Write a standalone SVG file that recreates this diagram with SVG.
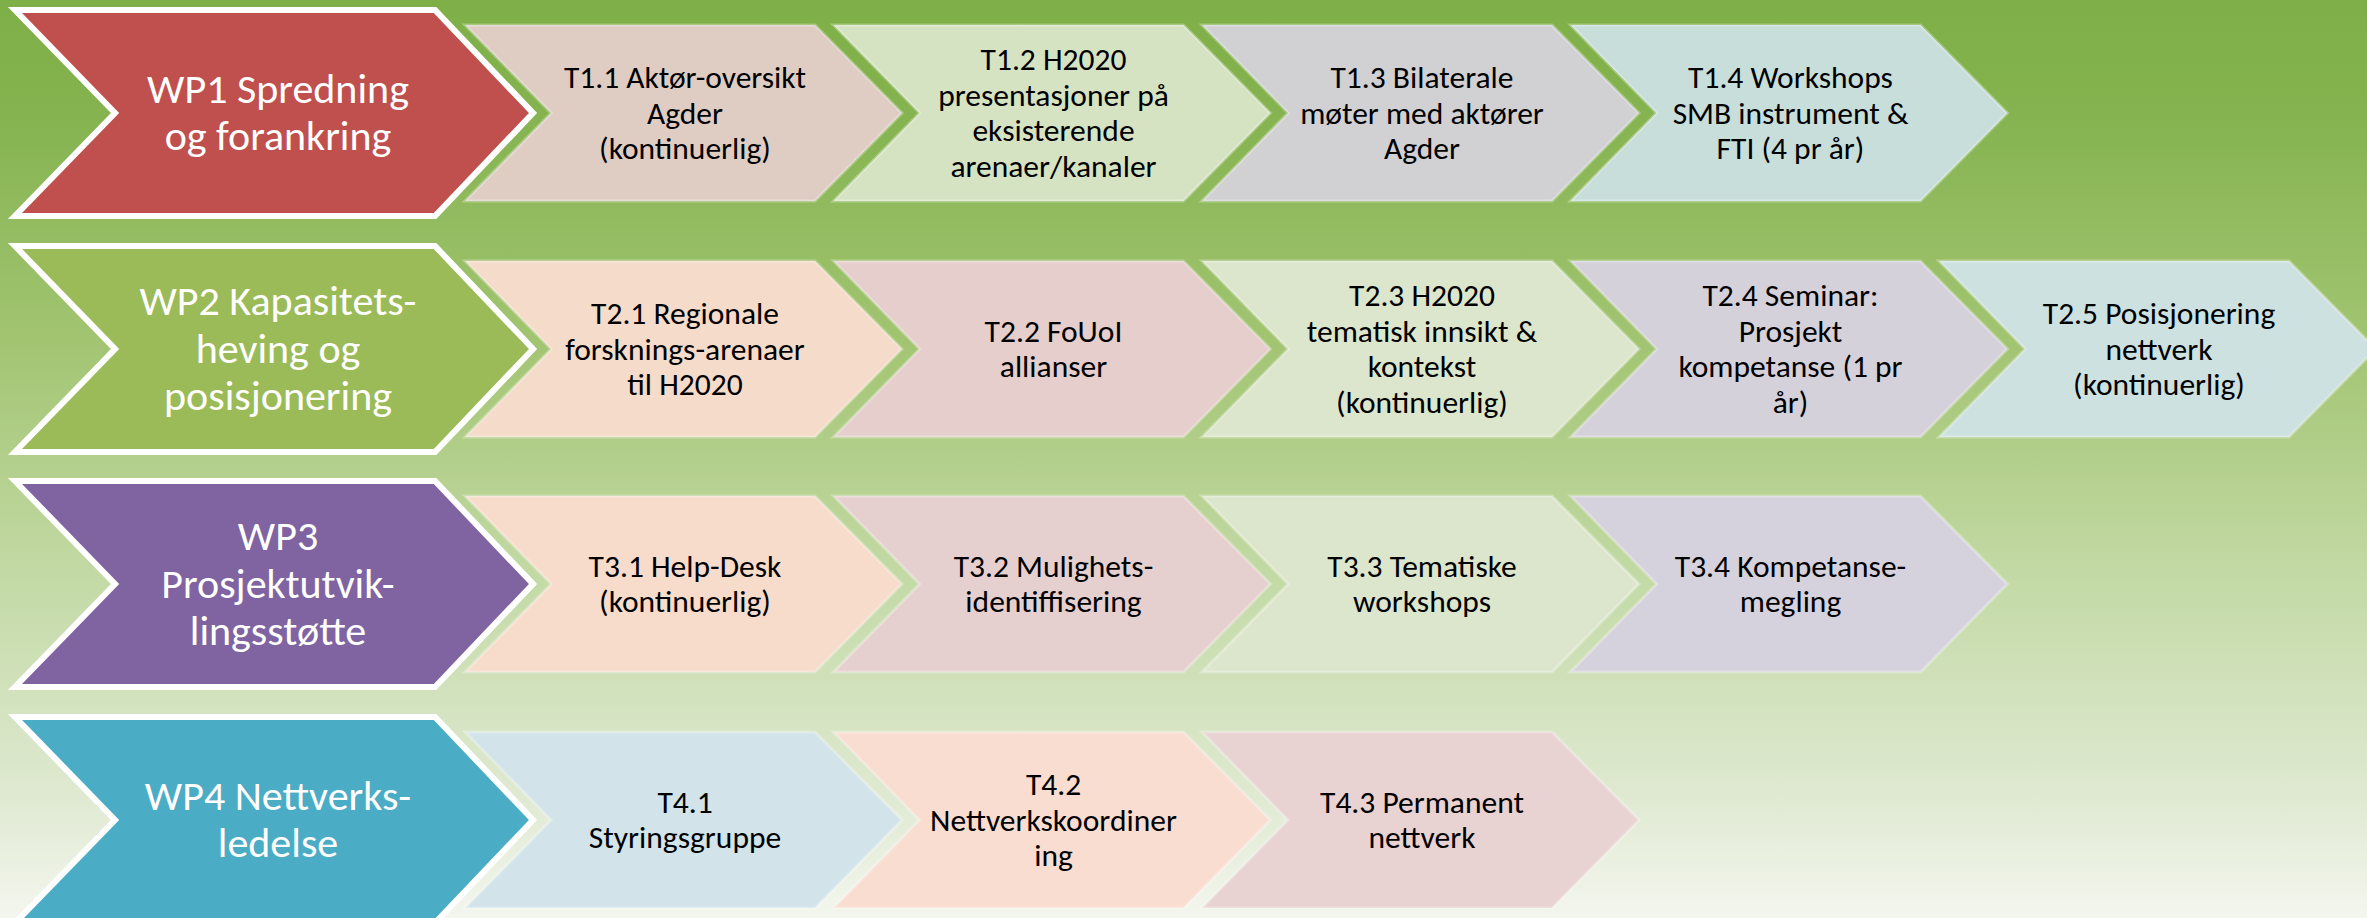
<svg xmlns="http://www.w3.org/2000/svg" xmlns:xlink="http://www.w3.org/1999/xlink" width="2367" height="918" viewBox="0 0 2367 918">
<style>
.t{font-family:Carlito,Lato,"Liberation Sans",sans-serif;font-size:31.5px;fill:#000;text-anchor:middle}
.w{font-family:Carlito,Lato,"Liberation Sans",sans-serif;font-size:42px;fill:#fff;text-anchor:middle}
.wp{stroke:#fff;stroke-width:6;stroke-linejoin:miter}
.tk{stroke:#fff;stroke-opacity:0.3;stroke-width:3}
</style>
<defs>
<linearGradient id="bg" x1="0" y1="0" x2="0" y2="1">
<stop offset="0" stop-color="#7FAF47"/>
<stop offset="0.12" stop-color="#84B34F"/>
<stop offset="0.38" stop-color="#A3C573"/>
<stop offset="0.62" stop-color="#C2D9A4"/>
<stop offset="0.85" stop-color="#DDE8CE"/>
<stop offset="1" stop-color="#F3F6EE"/>
</linearGradient>
<path id="task" d="M0,-88 H350 L437,0 L350,88 H0 L86,0 Z"/>
<path id="wpshape" d="M15,-103 H435 L533,0 L435,103 H15 L115,0 Z"/>
</defs>
<rect x="0" y="0" width="2367" height="918" fill="url(#bg)"/>
<g id="connectors"/>

<!-- Row 1 -->
<g id="T1.1"><use xlink:href="#task" x="465" y="113" fill="#DFCDC4" class="tk"/>
<text class="t" y="88"><tspan x="685">T1.1 Aktør-oversikt</tspan><tspan x="685" dy="35.5">Agder</tspan><tspan x="685" dy="35.5">(kontinuerlig)</tspan></text></g>
<g id="T1.2"><use xlink:href="#task" x="833.5" y="113" fill="#D6E3C3" class="tk"/>
<text class="t" y="70.25"><tspan x="1053.5">T1.2 H2020</tspan><tspan x="1053.5" dy="35.5">presentasjoner på</tspan><tspan x="1053.5" dy="35.5">eksisterende</tspan><tspan x="1053.5" dy="35.5">arenaer/kanaler</tspan></text></g>
<g id="T1.3"><use xlink:href="#task" x="1202" y="113" fill="#D1D0D3" class="tk"/>
<text class="t" y="88"><tspan x="1422">T1.3 Bilaterale</tspan><tspan x="1422" dy="35.5">møter med aktører</tspan><tspan x="1422" dy="35.5">Agder</tspan></text></g>
<g id="T1.4"><use xlink:href="#task" x="1570.5" y="113" fill="#C8DEDB" class="tk"/>
<text class="t" y="88"><tspan x="1790.5">T1.4 Workshops</tspan><tspan x="1790.5" dy="35.5">SMB instrument &amp;</tspan><tspan x="1790.5" dy="35.5">FTI (4 pr år)</tspan></text></g>
<g id="WP1"><use xlink:href="#wpshape" x="0" y="113" fill="#C0504D" class="wp"/>
<text class="w" y="102.75"><tspan x="278">WP1 Spredning</tspan><tspan x="278" dy="47.5">og forankring</tspan></text></g>

<!-- Row 2 -->
<g id="T2.1"><use xlink:href="#task" x="465" y="349" fill="#F5DBC9" class="tk"/>
<text class="t" y="324"><tspan x="685">T2.1 Regionale</tspan><tspan x="685" dy="35.5">forsknings-arenaer</tspan><tspan x="685" dy="35.5">til H2020</tspan></text></g>
<g id="T2.2"><use xlink:href="#task" x="833.5" y="349" fill="#E5CECB" class="tk"/>
<text class="t" y="341.75"><tspan x="1053.5">T2.2 FoUoI</tspan><tspan x="1053.5" dy="35.5">allianser</tspan></text></g>
<g id="T2.3"><use xlink:href="#task" x="1202" y="349" fill="#DBE6CC" class="tk"/>
<text class="t" y="306.25"><tspan x="1422">T2.3 H2020</tspan><tspan x="1422" dy="35.5">tematisk innsikt &amp;</tspan><tspan x="1422" dy="35.5">kontekst</tspan><tspan x="1422" dy="35.5">(kontinuerlig)</tspan></text></g>
<g id="T2.4"><use xlink:href="#task" x="1570.5" y="349" fill="#D5D1DB" class="tk"/>
<text class="t" y="306.25"><tspan x="1790.5">T2.4 Seminar:</tspan><tspan x="1790.5" dy="35.5">Prosjekt</tspan><tspan x="1790.5" dy="35.5">kompetanse (1 pr</tspan><tspan x="1790.5" dy="35.5">år)</tspan></text></g>
<g id="T2.5"><use xlink:href="#task" x="1939" y="349" fill="#CDE1E0" class="tk"/>
<text class="t" y="324"><tspan x="2159">T2.5 Posisjonering</tspan><tspan x="2159" dy="35.5">nettverk</tspan><tspan x="2159" dy="35.5">(kontinuerlig)</tspan></text></g>
<g id="WP2"><use xlink:href="#wpshape" x="0" y="349" fill="#9BBB59" class="wp"/>
<text class="w" y="315"><tspan x="278">WP2 Kapasitets-</tspan><tspan x="278" dy="47.5">heving og</tspan><tspan x="278" dy="47.5">posisjonering</tspan></text></g>

<!-- Row 3 -->
<g id="T3.1"><use xlink:href="#task" x="465" y="584" fill="#F7DCCC" class="tk"/>
<text class="t" y="576.75"><tspan x="685">T3.1 Help-Desk</tspan><tspan x="685" dy="35.5">(kontinuerlig)</tspan></text></g>
<g id="T3.2"><use xlink:href="#task" x="833.5" y="584" fill="#E6D0CF" class="tk"/>
<text class="t" y="576.75"><tspan x="1053.5">T3.2 Mulighets-</tspan><tspan x="1053.5" dy="35.5">identiffisering</tspan></text></g>
<g id="T3.3"><use xlink:href="#task" x="1202" y="584" fill="#DCE6CC" class="tk"/>
<text class="t" y="576.75"><tspan x="1422">T3.3 Tematiske</tspan><tspan x="1422" dy="35.5">workshops</tspan></text></g>
<g id="T3.4"><use xlink:href="#task" x="1570.5" y="584" fill="#D6D2DD" class="tk"/>
<text class="t" y="576.75"><tspan x="1790.5">T3.4 Kompetanse-</tspan><tspan x="1790.5" dy="35.5">megling</tspan></text></g>
<g id="WP3"><use xlink:href="#wpshape" x="0" y="584" fill="#8064A2" class="wp"/>
<text class="w" y="550"><tspan x="278">WP3</tspan><tspan x="278" dy="47.5">Prosjektutvik-</tspan><tspan x="278" dy="47.5">lingsstøtte</tspan></text></g>

<!-- Row 4 -->
<g id="T4.1"><use xlink:href="#task" x="465" y="820" fill="#D2E4E9" class="tk"/>
<text class="t" y="812.75"><tspan x="685">T4.1</tspan><tspan x="685" dy="35.5">Styringsgruppe</tspan></text></g>
<g id="T4.2"><use xlink:href="#task" x="833.5" y="820" fill="#F9DDD0" class="tk"/>
<text class="t" y="795"><tspan x="1053.5">T4.2</tspan><tspan x="1053.5" dy="35.5">Nettverkskoordiner</tspan><tspan x="1053.5" dy="35.5">ing</tspan></text></g>
<g id="T4.3"><use xlink:href="#task" x="1202" y="820" fill="#E8D2D2" class="tk"/>
<text class="t" y="812.75"><tspan x="1422">T4.3 Permanent</tspan><tspan x="1422" dy="35.5">nettverk</tspan></text></g>
<g id="WP4"><use xlink:href="#wpshape" x="0" y="820" fill="#4BACC6" class="wp"/>
<text class="w" y="809.75"><tspan x="278">WP4 Nettverks-</tspan><tspan x="278" dy="47.5">ledelse</tspan></text></g>
</svg>
